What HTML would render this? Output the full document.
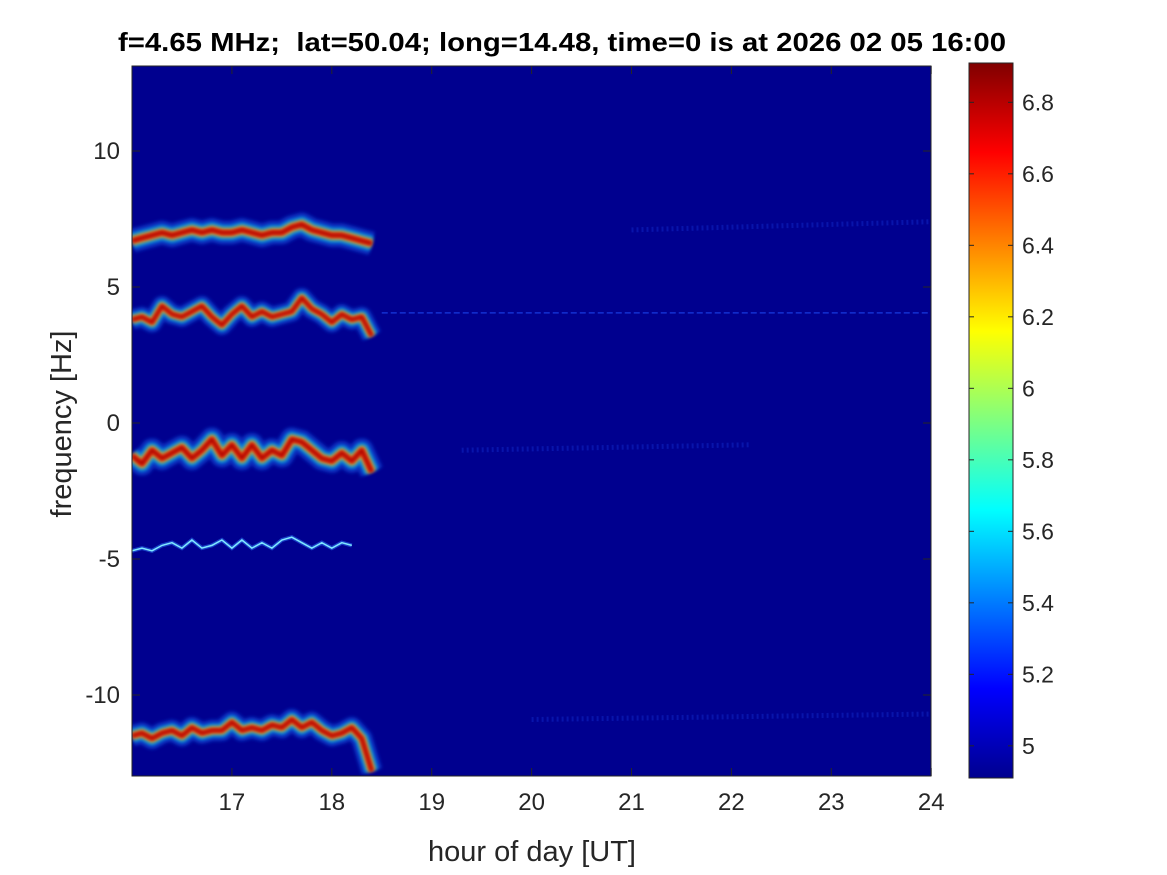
<!DOCTYPE html>
<html><head><meta charset="utf-8"><style>
body{margin:0;background:#fff;}
svg{display:block;font-family:"Liberation Sans",Arial,sans-serif;}
</style></head><body>
<svg id="fig" width="1167" height="875" viewBox="0 0 1167 875">
<defs>
<linearGradient id="jet" x1="0" y1="1" x2="0" y2="0">
<stop offset="0" stop-color="#00008f"/><stop offset="0.125" stop-color="#0000ff"/>
<stop offset="0.375" stop-color="#00ffff"/><stop offset="0.625" stop-color="#ffff00"/>
<stop offset="0.875" stop-color="#ff0000"/><stop offset="1" stop-color="#800000"/>
</linearGradient>
<clipPath id="pc"><rect x="132" y="66" width="799" height="710"/></clipPath>
<filter id="bl" filterUnits="userSpaceOnUse" x="0" y="0" width="1167" height="875"><feGaussianBlur stdDeviation="1.5"/></filter>
</defs>
<text x="562" y="51" font-size="26" font-weight="bold" text-anchor="middle" xml:space="preserve" textLength="888" lengthAdjust="spacingAndGlyphs">f=4.65 MHz;  lat=50.04; long=14.48, time=0 is at 2026 02 05 16:00</text>
<rect x="132" y="66" width="799" height="710" fill="#00008f"/>
<g id="marks" clip-path="url(#pc)"></g>
<rect x="132" y="66" width="799" height="710" fill="none" stroke="#262626" stroke-width="1"/>
<g id="axes"></g>
<rect x="969" y="63" width="44" height="715" fill="url(#jet)" stroke="#262626"/>
<g id="cbar"></g>
<text x="532" y="861" font-size="29" text-anchor="middle" fill="#262626">hour of day [UT]</text>
<text transform="translate(71,424) rotate(-90)" font-size="29" text-anchor="middle" fill="#262626">frequency [Hz]</text>
</svg>
<script>
const xTicks=[17,18,19,20,21,22,23,24];
const yTicks=[10,5,0,-5,-10];
const cTicks=[5,5.2,5.4,5.6,5.8,6,6.2,6.4,6.6,6.8];
const t0=16.0, dt=0.1;
const traceA=[6.7,6.8,6.9,7.0,6.9,7.0,7.1,7.0,7.1,7.0,7.0,7.1,7.0,6.9,7.0,7.0,7.2,7.3,7.1,7.0,6.9,6.9,6.8,6.7,6.6];
const traceB=[3.8,3.9,3.7,4.3,4.0,3.9,4.1,4.3,3.9,3.6,4.0,4.3,3.9,4.1,3.9,4.0,4.1,4.6,4.2,4.0,3.7,4.0,3.8,3.9,3.2];
const traceC=[-1.2,-1.5,-1.0,-1.3,-1.1,-0.9,-1.3,-1.0,-0.6,-1.2,-0.8,-1.3,-0.8,-1.3,-1.0,-1.2,-0.6,-0.7,-1.0,-1.3,-1.4,-1.1,-1.4,-1.0,-1.8];
const traceD=[-4.7,-4.6,-4.7,-4.5,-4.4,-4.6,-4.3,-4.6,-4.5,-4.3,-4.6,-4.3,-4.6,-4.4,-4.6,-4.3,-4.2,-4.4,-4.6,-4.4,-4.6,-4.4,-4.5];
const traceE=[-11.5,-11.4,-11.6,-11.4,-11.3,-11.5,-11.2,-11.4,-11.3,-11.3,-11.0,-11.3,-11.2,-11.3,-11.1,-11.2,-10.9,-11.2,-11.0,-11.3,-11.5,-11.4,-11.2,-11.6,-12.8];
const faintSegs=[[18.5,24,4.05,4.05],[19.3,22.2,-1.0,-0.8],[21.0,24,7.1,7.4],[20.0,24,-10.9,-10.7]];
const X=h=>132+(h-16)*99.9;
const Y=f=>423-f*27.2;
const C=v=>778-(v-4.91)/2.0*715;
const NS="http://www.w3.org/2000/svg";
function mk(tag,attrs,parent){const e=document.createElementNS(NS,tag);for(const k in attrs)e.setAttribute(k,attrs[k]);parent.appendChild(e);return e;}
const marks=document.getElementById('marks');
function drawTrace(arr,name,scale){
  const pts=arr.map((f,i)=>X(t0+i*dt).toFixed(1)+','+Y(f).toFixed(1)).join(' ');
  const g=mk('g',{},marks);
  
  
  const layers=[['#1e6cff',24*scale,0.4],['#00d8ff',16*scale,0.5],['#ffe000',10*scale,0.6],['#ff2000',6*scale,0.9],['#a00000',3*scale,0.9]];
  layers.forEach(l=>mk('polyline',{points:pts,fill:'none',stroke:l[0],'stroke-width':l[1],'stroke-opacity':l[2],'stroke-linejoin':'round',filter:'url(#bl)'},g));
}
drawTrace(traceA,'trace-7hz',1);
drawTrace(traceB,'trace-4hz',0.85);
drawTrace(traceC,'trace-minus1hz',1);
drawTrace(traceE,'trace-minus11hz',0.9);
(function(){
  const pts=traceD.map((f,i)=>X(t0+i*dt).toFixed(1)+','+Y(f).toFixed(1)).join(' ');
  const g=mk('g',{},marks);
  
  
  mk('polyline',{points:pts,fill:'none',stroke:'#3080ff','stroke-width':4,'stroke-opacity':0.5},g);
  mk('polyline',{points:pts,fill:'none',stroke:'#80e8ff','stroke-width':1.5},g);
})();
faintSegs.forEach((s,i)=>{
  const l=mk('line',{x1:X(s[0]),y1:Y(s[2]),x2:X(s[1]),y2:Y(s[3]),stroke:'#2050ff','stroke-width':i==0?1.5:5,'stroke-opacity':i==0?0.6:0.25,'stroke-dasharray':i==0?'6 3':'2 3'},marks);
  
  
});
const axes=document.getElementById('axes');
xTicks.forEach(h=>{
  mk('line',{x1:X(h),y1:776,x2:X(h),y2:768,stroke:'#262626'},axes);
  mk('line',{x1:X(h),y1:66,x2:X(h),y2:74,stroke:'#262626'},axes);
  const t=mk('text',{x:X(h),y:810,'font-size':24,'text-anchor':'middle',fill:'#262626'},axes);
  t.textContent=h;
  
  
});
yTicks.forEach(f=>{
  mk('line',{x1:132,y1:Y(f),x2:140,y2:Y(f),stroke:'#262626'},axes);
  mk('line',{x1:931,y1:Y(f),x2:923,y2:Y(f),stroke:'#262626'},axes);
  const t=mk('text',{x:120,y:Y(f)+8,'font-size':24,'text-anchor':'end',fill:'#262626'},axes);
  t.textContent=f;
  
  
});
const cb=document.getElementById('cbar');
cTicks.forEach(v=>{
  mk('line',{x1:969,y1:C(v),x2:974,y2:C(v),stroke:'#262626'},cb);
  mk('line',{x1:1013,y1:C(v),x2:1008,y2:C(v),stroke:'#262626'},cb);
  const t=mk('text',{x:1022,y:C(v)+8,'font-size':23,fill:'#262626'},cb);
  t.textContent=v;
  
  
});
</script>
</body></html>
